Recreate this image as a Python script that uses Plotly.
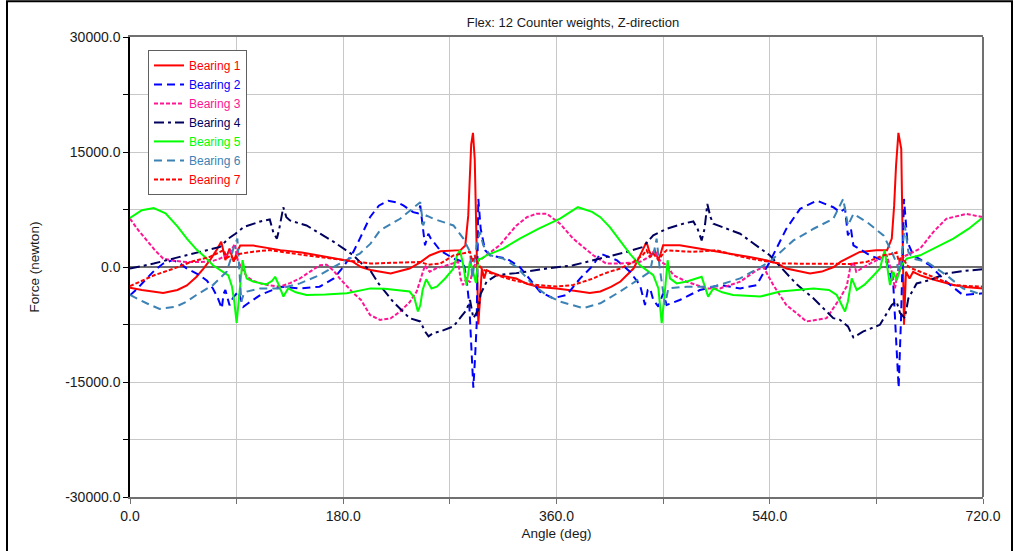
import plotly.graph_objects as go

TITLE = "Flex: 12 Counter weights, Z-direction"
X_TICKS = [0, 90, 180, 270, 360, 450, 540, 630, 720]
X_TICK_TEXT = ["0.0", "", "180.0", "", "360.0", "", "540.0", "", "720.0"]
Y_TICKS = [-30000, -22500, -15000, -7500, 0, 7500, 15000, 22500, 30000]
Y_TICK_TEXT = ["-30000.0", "", "-15000.0", "", "0.0", "", "15000.0", "", "30000.0"]

# (angle deg, force N)
BEARING_1 = [(0,-2700),(10,-3000),(28,-3400),(40,-3000),(48,-2400),(56,-1300),(62,-200),(68,1000),(73,2200),(77,3300),(79,2000),(80.5,900),(84,2400),(86,1500),(87.5,700),(90,1800),(93,2800),(104,2800),(115,2500),(127,2200),(145,1900),(160,1500),(175,1100),(188,700),(195,0),(203,-400),(220,-850),(236,-200),(245,600),(253,1500),(262,2050),(270,2150),(279,2200),(283,2800),(285.5,6700),(288,16000),(289.5,17500),(291,14000),(292.5,5000),(294,-7500),(295.5,-4000),(297,-200),(299,-1500),(301,-400),(305,-700),(312,-1100),(326,-1500),(335,-2200),(345,-2600),
             (360,-2800),(375,-3100),(388,-3400),(397,-3200),(406,-2600),(414,-1900),(420,-1000),(425,-200),(429,1000),(433,2200),(436,3270),(438,2200),(440,1500),(443,2200),(446,900),(448,1800),(450,2830),(464,2830),(481,2400),(495,2100),(509,1750),(523,1300),(537,880),(546,500),(554,-200),(563,-500),(574,-840),(584,-600),(594,0),(600,700),(608,1320),(616,1970),(630,2180),(639,2180),(643,3700),(645,8000),(646.6,13200),(648.6,17500),(651,15400),(652.3,5000),(653.3,-7540),(655,-620),(658,-1490),(661,-620),(667,-1100),(675,-1490),(685,-1900),(695,-2360),(705,-2600),(712,-2700),(720,-2790)]

BEARING_2 = [(0,-3700),(7,-2700),(14,-1500),(21,-400),(28,450),(36,900),(42,500),(48,-200),(59,-1100),(65,-1800),(70,-2800),(74,-4000),(77.5,-5400),(79,-3500),(80.5,-3000),(84,-5000),(87,-4000),(91.4,-3200),(93.5,-4200),(95.6,-5200),(100,-4700),(110,-3650),(127,-2570),(143,-2790),(160,-2570),(172,-1490),(180,0),(188.5,1970),(194,3700),(202.6,6500),(210,8000),(218,8650),(226,8400),(231,8000),(239,7150),(243,7000),(245,8010),(247.6,4990),(249,2825),(251.8,4340),(254,3700),(261.7,2180),(273,1100),(281.4,674),(284,-1500),(286.4,-4950),(288.4,-11000),(289.8,-15750),(291.2,-12000),(292.6,-7540),(294,8880),(296,4990),(299.7,2180),(303.9,1530),(318,1100),(329,0),(346,-3210),(357,-4080),
             (368.5,-3650),(380,-1490),(391,230),(397,1750),(411,880),(422,-620),(430.5,-2360),(434.7,-4950),(437,-3000),(439,-2790),(441.7,-4300),(446,-5160),(450,-3430),(453,-4950),(464,-4300),(481,-3000),(498,-2360),(515,-2790),(529,-2360),(540,674),(554,4990),(565.6,7580),(579.6,8660),(593.6,7800),(599.3,7150),(603.5,7600),(606,4120),(608.5,5000),(610.6,2825),(624.6,1530),(638.7,674),(644.3,-2360),(646.6,-9270),(648.8,-15750),(650.9,-6250),(653.3,8880),(656.2,3266),(661.2,1530),(675,233),(689,-1920),(703,-3650),(720,-3430)]

BEARING_3 = [(0,6300),(7,4800),(14,3500),(21,2200),(28,1100),(38,800),(48,650),(60,650),(70,800),(76,1100),(81,1500),(84.5,2000),(88.6,3000),(90,1500),(91.4,700),(95,-400),(98.5,-1270),(104,-1800),(110,-2140),(118,-2400),(126.6,-2570),(135,-2100),(143.5,-1490),(152,-600),(160.4,230),(166,300),(172,-500),(177,-1490),(188.5,-3400),(195,-4300),(202.6,-6250),(211,-6900),(220,-6700),(228,-5800),(236,-4600),(242,-3200),(246,-1200),(249,230),(251,-300),(253,-620),(258,-200),(267,230),(274,600),(277,674),(279,-1490),(281,-2360),(284,-1500),(287,-2000),(290,0),(292.6,674),(297,1100),(301,1530),(312,2830),(326,5400),(335,6500),(343,6930),(352,6930),
             (363,5640),(374,3700),(391,1530),(402,450),(414,450),(430.5,674),(438,1300),(443,2180),(446,1100),(449,600),(453,233),(458.6,-1060),(469.8,-1920),(486.7,-2790),(498,-2790),(515,-1920),(529,-414),(534.6,0),(543,-2360),(554,-4950),(571,-7100),(588,-6674),(599.3,-4080),(605,-2500),(607.8,-200),(610.6,674),(613,-620),(624.6,450),(638.7,1530),(643,-620),(645.7,-2790),(649.9,1100),(655,1500),(667,2400),(678,4560),(689,6285),(706,6930),(720,6500)]

BEARING_4 = [(0,-200),(20,450),(42,1320),(65,2180),(76,2620),(83,3700),(89,4340),(96,5210),(110,5940),(118,6200),(121,4500),(124,3700),(126,5000),(129.4,7800),(132,6500),(135,6070),(149,5420),(160,4400),(172,3270),(188.5,1530),(194,674),(203,-500),(210,-2200),(222,-4510),(236,-6670),(245,-7100),(249,-8400),(252,-9050),(256,-8620),(262,-8400),(273,-7750),(284,-5600),(287,-4300),(289.8,-6674),(292,-6000),(294,-5600),(296,-3500),(301,-1920),(309.5,-1060),(326,-800),(352,-200),
             (374,230),(391,880),(397,1100),(420,2000),(433,2620),(441.7,4120),(453,4990),(468,5700),(475.5,5940),(479,5000),(482.5,3470),(485,5000),(487.3,8230),(490,6500),(492.4,5640),(515,4340),(540,1530),(554,-840),(563,-2300),(576.8,-4080),(593.6,-6670),(599.3,-6890),(606,-7750),(608,-8400),(610.6,-9180),(619,-8400),(633,-7540),(643,-4950),(647,-4500),(650,-6000),(654,-6674),(657,-4080),(664,-2140),(675,-1710),(689,-840),(705,-500),(720,-285)]

BEARING_5 = [(0,6400),(10,7400),(20,7700),(30,7000),(40,5300),(48,3700),(56,2300),(64,1200),(70,230),(76,-400),(83,-1100),(86,-2500),(88,-4500),(90,-7300),(92,-4000),(94,-500),(95,900),(97,-600),(98.5,-1500),(104,-1900),(110,-2100),(115,-2270),(120,-1800),(122.5,-1270),(126,-2500),(129.5,-3860),(133.5,-2790),(140,-3300),(149,-3650),(165,-3600),(183,-3430),(203,-2790),(215,-2850),(236,-3200),(240,-4000),(243,-5800),(245,-5000),(247,-3000),(250,-1600),(254.5,-2800),(259,-2570),(266,-1500),(273,-200),(276,1500),(278.5,2180),(281,500),(284,-2400),(287,800),(289.5,-600),(292,-2100),(294,1000),(297,1100),(301,1530),(315,2400),(329,3700),(345,5000),
             (363,6300),(378,7800),(390,7200),(397,6500),(405,5200),(414,3270),(422,1700),(430.5,230),(436,-400),(441.7,-1060),(446,-2790),(448.8,-7320),(451,-4000),(453.8,880),(455.8,-1490),(461.4,-2140),(470,-1900),(478.3,-1490),(482.5,-1270),(488,-3860),(492.4,-2790),(500,-3300),(509,-3650),(532,-3860),(548.7,-3210),(577,-2790),(590,-3000),(596.5,-3650),(603.5,-5806),(606,-4500),(609.2,-1490),(613.4,-3000),(620,-2300),(627,-1200),(633,-200),(637,2180),(641.5,-2360),(644.3,-620),(647.1,-1710),(651.3,230),(655.6,1100),(667,1530),(680,2500),(695,3700),(708,5000),(720,6500)]

BEARING_6 = [(0,-3650),(7,-4200),(14,-4730),(25,-5470),(39,-5160),(48,-4500),(56,-3650),(70,-2360),(76,-1500),(81.6,-620),(85,1000),(87.2,2400),(90.6,3700),(92,0),(94,-4510),(96,-3500),(98.5,-3210),(110,-2790),(127,-2790),(143.5,-2140),(160,-1060),(177,450),(194,1750),(203,3050),(211,4770),(228,6290),(242,8010),(245,8450),(247.5,5420),(250.4,6710),(256,6290),(273,5420),(281.4,3700),(287,1970),(289,-1500),(290.5,600),(292.6,2830),(295.4,4560),(298.2,2830),(304,1530),(315,1100),(326.4,0),(340.4,-2360),(352,-3700),
             (363,-4510),(382.6,-5380),(397,-4730),(413.6,-3210),(430.5,-1490),(439,-620),(441.7,1530),(444.5,3700),(447,0),(451.6,-4950),(454.4,-2790),(469.8,-2570),(492.4,-2570),(515,-1490),(540,674),(560,3470),(577,4990),(593.6,6285),(602,8880),(606,5420),(610.6,6930),(622,5860),(636,4120),(643,1970),(647,500),(650,-620),(654,5420),(657,1970),(661,1100),(672.4,674),(689,-1060),(703,-2790),(720,-3650)]

BEARING_7 = [(0,-2500),(6,-2100),(20,-1100),(37,-200),(53,750),(67,1300),(76,2000),(79,2200),(82,1200),(85,1500),(88,900),(92,1700),(104,2000),(118,2200),(138,1750),(160,1300),(188,750),(203,450),(222,550),(245,650),(252,300),(262,450),(273,1500),(283,1900),(287,1970),(289,700),(291,1500),(294,300),(297,-200),(301,-600),(310,-1100),(323,-1700),(340,-2300),(360,-2550),
             (374,-2350),(391,-1500),(397,-1060),(405,-600),(414,-200),(425,674),(433,1600),(436,2180),(439,1300),(442,1700),(446,900),(450,1750),(453,2180),(475,1970),(495,2180),(509,1600),(523,1100),(549,450),(580,450),(608,400),(622,674),(636,1530),(645,1750),(647,1900),(649,700),(652,1500),(655.6,230),(660,-200),(667,-620),(680,-1400),(695,-2360),(710,-2500),(720,-2570)]

SERIES = [
    ("Bearing 1", BEARING_1, "#FF0000", "solid"),
    ("Bearing 2", BEARING_2, "#0000FF", "8px,5px"),
    ("Bearing 3", BEARING_3, "#FF1493", "4px,2px"),
    ("Bearing 4", BEARING_4, "#00005E", "10px,4px,3px,4px"),
    ("Bearing 5", BEARING_5, "#00FF00", "solid"),
    ("Bearing 6", BEARING_6, "#3C82B4", "8px,5px"),
    ("Bearing 7", BEARING_7, "#FF0000", "4px,2px"),
]

FONT = "Liberation Sans, Arial, sans-serif"
fig = go.Figure()
for name, pts, color, dash in SERIES:
    fig.add_trace(go.Scatter(
        x=[p[0] for p in pts], y=[p[1] for p in pts], mode="lines",
        name=f"<span style='color:{color}'>{name}</span>",
        line=dict(color=color, width=2, dash=dash),
    ))

W, H = 1015, 551
ML, MR, MT, MB = 130, 32, 37, 51
PW, PH = W - ML - MR, H - MT - MB

def px(xp):
    return (xp - ML) / PW

def py(yp):
    return (H - MB - yp) / PH

fig.update_layout(
    width=W, height=H,
    margin=dict(l=ML, r=MR, t=MT, b=MB, pad=0),
    paper_bgcolor="white", plot_bgcolor="white",
    font=dict(family=FONT, color="#1a1a1a"),
    title=dict(text=TITLE, x=573 / W, xref="container", xanchor="center",
               y=1 - 22 / H, yref="container", yanchor="middle",
               font=dict(size=13, color="#1a1a1a", family=FONT)),
    showlegend=True,
    legend=dict(x=px(148), y=py(50), xanchor="left", yanchor="top",
                bgcolor="white", bordercolor="#606060", borderwidth=1,
                font=dict(size=12, family=FONT), tracegroupgap=0, itemwidth=30),
    xaxis=dict(range=[0, 720], tickvals=X_TICKS, ticktext=X_TICK_TEXT,
               showgrid=True, gridcolor="#C8C8C8", gridwidth=1,
               ticks="outside", ticklen=5, tickcolor="#707070",
               showline=True, linecolor="#707070", linewidth=2, mirror=True,
               zeroline=False, tickfont=dict(size=14, color="#1a1a1a"),
               title=dict(text="Angle (deg)", font=dict(size=13.5), standoff=6)),
    yaxis=dict(range=[-30000, 30000], tickvals=Y_TICKS, ticktext=Y_TICK_TEXT,
               showgrid=True, gridcolor="#C8C8C8", gridwidth=1,
               ticks="outside", ticklen=5, tickcolor="#000000",
               showline=True, linecolor="#000000", linewidth=1.5, mirror=False,
               zeroline=True, zerolinecolor="#6E6E6E", zerolinewidth=2,
               tickfont=dict(size=14, color="#1a1a1a"),
               title=dict(text="Force (newton)", font=dict(size=13.5), standoff=22)),
    shapes=[
        dict(type="line", xref="paper", yref="paper", x0=1, x1=1, y0=0, y1=1,
             line=dict(color="#707070", width=2)),
        dict(type="rect", xref="paper", yref="paper",
             x0=px(7), x1=px(1012), y0=py(565), y1=py(1),
             line=dict(color="#000000", width=2), fillcolor="rgba(0,0,0,0)", layer="above"),
    ],
)

fig.write_html("out.html")
